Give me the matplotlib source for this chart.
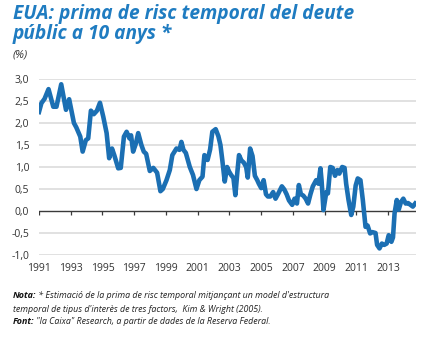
import numpy as np
from matplotlib import pyplot as plt

# approximate readings from the reference (year fraction, %)
years = [1991.0, 1991.15, 1991.35, 1991.6, 1991.9, 1992.1, 1992.4, 1992.7, 1992.9,
         1993.2, 1993.35, 1993.6, 1993.75, 1993.95, 1994.1, 1994.27, 1994.45, 1994.65,
         1994.84, 1995.05, 1995.26, 1995.42, 1995.6, 1995.75, 1995.99, 1996.15, 1996.35,
         1996.52, 1996.7, 1996.8, 1996.93, 1997.1, 1997.25, 1997.45, 1997.6, 1997.75,
         1997.98, 1998.2, 1998.44, 1998.65, 1998.8, 1999.03, 1999.24, 1999.4, 1999.66,
         1999.85, 1999.97, 2000.1, 2000.25, 2000.5, 2000.7, 2000.92, 2001.1, 2001.3,
         2001.42, 2001.62, 2001.78, 2001.92, 2002.13, 2002.3, 2002.43, 2002.55, 2002.7,
         2002.85, 2002.97, 2003.1, 2003.25, 2003.37, 2003.5, 2003.6, 2003.75, 2003.9,
         2004.05, 2004.15, 2004.3, 2004.45, 2004.6, 2004.75, 2004.85, 2005.0, 2005.15,
         2005.3, 2005.42, 2005.57, 2005.75, 2005.9, 2006.05, 2006.2, 2006.3, 2006.45,
         2006.6, 2006.75, 2006.95, 2007.1, 2007.25, 2007.37, 2007.5, 2007.65, 2007.8,
         2007.95, 2008.1, 2008.25, 2008.46, 2008.6, 2008.73, 2008.8, 2008.92, 2009.1,
         2009.2, 2009.35, 2009.5, 2009.65, 2009.8, 2009.92, 2010.1, 2010.25, 2010.35,
         2010.5, 2010.67, 2010.8, 2010.95, 2011.08, 2011.25, 2011.4, 2011.57, 2011.7,
         2011.86, 2012.0, 2012.2, 2012.3, 2012.45, 2012.6, 2012.75, 2012.9, 2013.03,
         2013.2, 2013.3, 2013.4, 2013.54, 2013.66, 2013.8, 2013.95, 2014.1, 2014.25,
         2014.4, 2014.55, 2014.7]
premium = [2.25, 2.45, 2.55, 2.77, 2.37, 2.37, 2.88, 2.30, 2.54,
           2.0, 1.9, 1.69, 1.35, 1.61, 1.65, 2.28, 2.2, 2.28,
           2.46, 2.14, 1.77, 1.20, 1.42, 1.26, 0.97, 0.98, 1.69,
           1.80, 1.65, 1.72, 1.35, 1.53, 1.77, 1.5, 1.35, 1.3,
           0.91, 0.98, 0.87, 0.45, 0.5, 0.70, 0.93, 1.27, 1.42,
           1.39, 1.57, 1.39, 1.32, 1.0, 0.82, 0.50, 0.7, 0.78,
           1.27, 1.16, 1.4, 1.80, 1.86, 1.7, 1.5, 1.15, 0.67,
           1.0, 0.9, 0.82, 0.75, 0.36, 0.9, 1.27, 1.15, 1.1,
           1.0, 0.76, 1.42, 1.25, 0.8, 0.7, 0.62, 0.52, 0.7,
           0.38, 0.33, 0.33, 0.43, 0.28, 0.38, 0.49, 0.56, 0.49,
           0.38, 0.24, 0.14, 0.28, 0.17, 0.59, 0.38, 0.35, 0.28,
           0.17, 0.38, 0.56, 0.7, 0.62, 0.97, 0.7, 0.02, 0.43,
           0.4, 1.0, 0.98, 0.8, 0.93, 0.85, 1.0, 0.98, 0.62,
           0.25, -0.09, 0.1, 0.58, 0.74, 0.7, 0.25, -0.36, -0.33,
           -0.51, -0.48, -0.5, -0.77, -0.85, -0.74, -0.77, -0.74, -0.55,
           -0.70, -0.6, -0.05, 0.25, 0.03, 0.2, 0.28, 0.17, 0.18,
           0.14, 0.1, 0.17]

ytick_vals = [-1.0, -0.5, 0.0, 0.5, 1.0, 1.5, 2.0, 2.5, 3.0]
ytick_labels = ['-1,0', '-0,5', '0,0', '0,5', '1,0', '1,5', '2,0', '2,5', '3,0']
xtick_vals = list(range(1991, 2014, 2))

BLUE = '#1b6fb3'
TITLE_BLUE = '#1f7cc1'
plt.rcParams['font.family'] = ['Open Sans', 'DejaVu Sans']

fig = plt.figure(figsize=(4.24, 3.38), dpi=100)
ax = fig.add_axes([39/424, 1 - 255/338, (416 - 39)/424, (255 - 79)/338])

# grid, zero line and its small ticks
for v in ytick_vals:
    if v != 0:
        ax.axhline(v, color='#d9d9d9', lw=1.1, zorder=1)
ax.axhline(0, color='#3a3a3a', lw=1.0, zorder=2)
ax.vlines(xtick_vals, -0.08, 0, color='#3a3a3a', lw=0.9, zorder=2)

ax.plot(years, premium, color=BLUE, lw=3.3, solid_joinstyle='round', zorder=3)

ax.set_xlim(1991, 2014.75)
ax.set_ylim(-1, 3)
ax.set_yticks(ytick_vals)
ax.set_yticklabels(ytick_labels)
ax.set_xticks(xtick_vals)
ax.set_xticklabels([str(y) for y in xtick_vals])
ax.tick_params(length=0, labelsize=7.5, colors='#333333')
ax.tick_params(axis='y', pad=7)
ax.tick_params(axis='x', pad=6)
for s in ax.spines.values():
    s.set_visible(False)

fig.text(13/424, 1 - 24/338, 'EUA: prima de risc temporal del deute\npúblic a 10 anys *',
         color=TITLE_BLUE, fontsize=13.8, fontweight='bold', style='italic',
         va='center', ha='left', linespacing=0.95)
fig.text(13/424, 1 - 55/338, '(%)', fontsize=8, style='italic', color='#333333',
         va='center', ha='left')

NOTE_FS = 6.4
nota = fig.text(13/424, 1 - 295/338, 'Nota:', fontsize=NOTE_FS, style='italic',
                fontweight='bold', va='center', color='#111111')
ax.annotate(' * Estimació de la prima de risc temporal mitjançant un model d\'estructura',
            xy=(1, 0.5), xycoords=nota, va='center', ha='left',
            fontsize=NOTE_FS, style='italic', color='#222222', annotation_clip=False)
fig.text(13/424, 1 - 309/338,
         'temporal de tipus d\'interès de tres factors,  Kim & Wright (2005).',
         fontsize=NOTE_FS, style='italic', va='center', color='#222222')
font_lbl = fig.text(13/424, 1 - 322/338, 'Font:', fontsize=NOTE_FS, style='italic',
                    fontweight='bold', va='center', color='#111111')
ax.annotate(' "la Caixa" Research, a partir de dades de la Reserva Federal.',
            xy=(1, 0.5), xycoords=font_lbl, va='center', ha='left',
            fontsize=NOTE_FS, style='italic', color='#222222', annotation_clip=False)

fig.savefig('out.png', dpi=100)
